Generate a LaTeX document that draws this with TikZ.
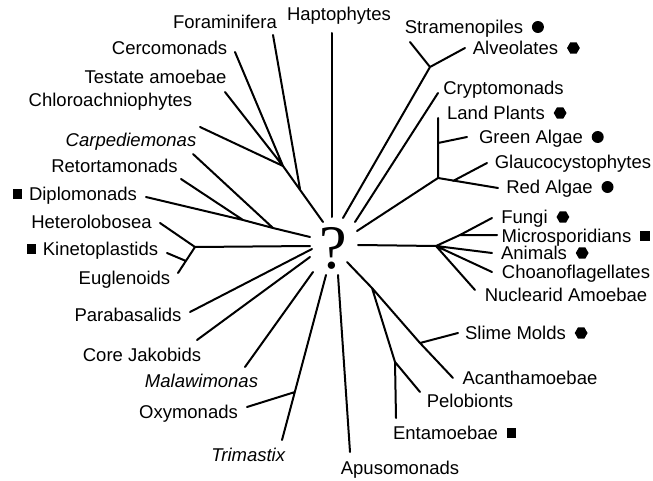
\documentclass[tikz,border=0pt]{standalone}
\usepackage{fontspec}
\setmainfont{Liberation Sans}
\newfontfamily\qmarkfont{Liberation Serif}
\usetikzlibrary{positioning,shapes.geometric}
\begin{document}
\begin{tikzpicture}[x=0.5pt,y=-0.5pt,branch/.style={draw=black,line width=1pt,line cap=round,line join=round},taxon/.style={inner sep=0pt,text height=6.6pt,text depth=0pt,font=\fontsize{9.25}{11}\selectfont},dotmark/.style={circle,fill=black,inner sep=0pt,minimum size=6pt},hexmark/.style={regular polygon,regular polygon sides=6,fill=black,inner sep=0pt,minimum size=6.4pt},boxmark/.style={rectangle,fill=black,inner sep=0pt,minimum size=4.8pt}]
\useasboundingbox (0,0) rectangle (653,481);
\node (query) at (333,248) {\qmarkfont\fontsize{31}{31}\selectfont ?};
\foreach \n/\x/\y in {rz0/323/222,rzj/283/166,fj/300/189,tfora/273/35,tcerco/235/52,ttest/225/92,tchlor/200/127,h0/332/217,thapto/332/33,sa0/343/218,saj/430/67,tstram/410/42,talveo/465/48,cr0/355/222,tcrypto/438/93,pl0/357/231,plj/438/178,tland/438/118,gj/438/143,tgreen/467/137,tred/498/188,glj/453/181,tglauco/487/163}
  \coordinate (\n) at (\x,\y);
\foreach \n/\x/\y in {op0/358/245,opj/436/246,fuj/460/235,tfungi/492/218,tmicro/497/235,tanim/492/253,tchoano/492/272,tnucl/475/290,am0/347/262,amj/372/288,slj/420/343,tacanth/453/378,tslime/458/333,enj/395/362,tpelo/420/392,tent/396/418,ap0/338/275,tapuso/350/452}
  \coordinate (\n) at (\x,\y);
\foreach \n/\x/\y in {tr0/326/275,oxj/295/392,ttrim/282/440,toxy/247/407,ma0/313/272,tmala/245/367,co0/310/257,tcore/197/340,pa0/312/249,tpara/190/312,ki0/310/246,kij/195/247,thetero/160/223,teugl/178/273,kinj/186/261,tkineto/167/253,di0/310/237,caj/273/228,rej/243/220,tdiplo/146/197,tcarpe/193/154,tretort/181/179}
  \coordinate (\n) at (\x,\y);
\draw[branch] (rz0)--(rzj)--(tchlor) (rzj)--(tcerco) (rzj)--(ttest) (fj)--(tfora);
\draw[branch] (h0)--(thapto);
\draw[branch] (sa0)--(saj)--(tstram) (saj)--(talveo);
\draw[branch] (cr0)--(tcrypto);
\draw[branch] (pl0)--(plj)--(tland) (gj)--(tgreen) (plj)--(tred) (glj)--(tglauco);
\draw[branch] (op0)--(opj)--(fuj)--(tfungi) (fuj)--(tmicro) (opj)--(tanim) (opj)--(tchoano) (opj)--(tnucl);
\draw[branch] (am0)--(amj)--(slj)--(tacanth) (slj)--(tslime) (amj)--(enj)--(tpelo) (enj)--(tent);
\draw[branch] (ap0)--(tapuso);
\draw[branch] (tr0)--(ttrim) (oxj)--(toxy);
\draw[branch] (ma0)--(tmala);
\draw[branch] (co0)--(tcore);
\draw[branch] (pa0)--(tpara);
\draw[branch] (ki0)--(kij)--(thetero) (kij)--(teugl) (kinj)--(tkineto);
\draw[branch] (di0)--(caj)--(rej)--(tdiplo) (caj)--(tcarpe) (rej)--(tretort);
\foreach \n/\x/\y/\t in {hapto/339/14/Haptophytes,fora/225/22/Foraminifera,cerco/169.5/48/Cercomonads,testa/155.5/77/Testate amoebae,chlor/110.5/100/Chloroachniophytes,carpe/131/140/\textit{Carpediemonas},retort/114.5/166/Retortamonads,diplo/83/194/Diplomonads,hetero/91.5/222/Heterolobosea,kineto/100.5/249/Kinetoplastids,eugl/124.5/278/Euglenoids,para/128/315/Parabasalids,core/142/355/Core Jakobids,mala/201.5/381/\textit{Malawimonas},oxy/188.5/412/Oxymonads,trim/248.5/455/\textit{Trimastix}}
  \node[taxon] (\n) at (\x,\y) {\t};
\foreach \n/\x/\y/\t in {apuso/400/468/Apusomonads,entam/445.5/433/Entamoebae,pelo/470/401/Pelobionts,acanth/530/378/Acanthamoebae,slime/515.5/333/Slime Molds,nucl/566/295/Nuclearid Amoebae,choano/576/272/Choanoflagellates,anim/534/253/Animals,micro/566.5/236/Microsporidians,fungi/524.5/217/Fungi,algred/549.5/187/Red Algae,glauco/573/162/Glaucocystophytes,alggreen/531/137/Green Algae,land/496/113/Land Plants,crypto/503.5/88/Cryptomonads,alveo/515.5/48/Alveolates,stram/464/27/Stramenopiles}
  \node[taxon] (\n) at (\x,\y) {\t};
\node[dotmark,right=4pt of stram] (stramm) {};
\node[hexmark,right=4pt of alveo] (alveom) {};
\node[hexmark,right=4pt of land] (landm) {};
\node[dotmark,right=4pt of alggreen] (alggreenm) {};
\node[dotmark,right=4pt of algred] (algredm) {};
\node[hexmark,right=4pt of fungi] (fungim) {};
\node[boxmark,right=4pt of micro] (microm) {};
\node[hexmark,right=4pt of anim] (animm) {};
\node[hexmark,right=4pt of slime] (slimem) {};
\node[boxmark,right=4pt of entam] (entamm) {};
\node[boxmark,left=3pt of diplo] (diplom) {};
\node[boxmark,left=3pt of kineto] (kinetom) {};
\end{tikzpicture}
\end{document}
